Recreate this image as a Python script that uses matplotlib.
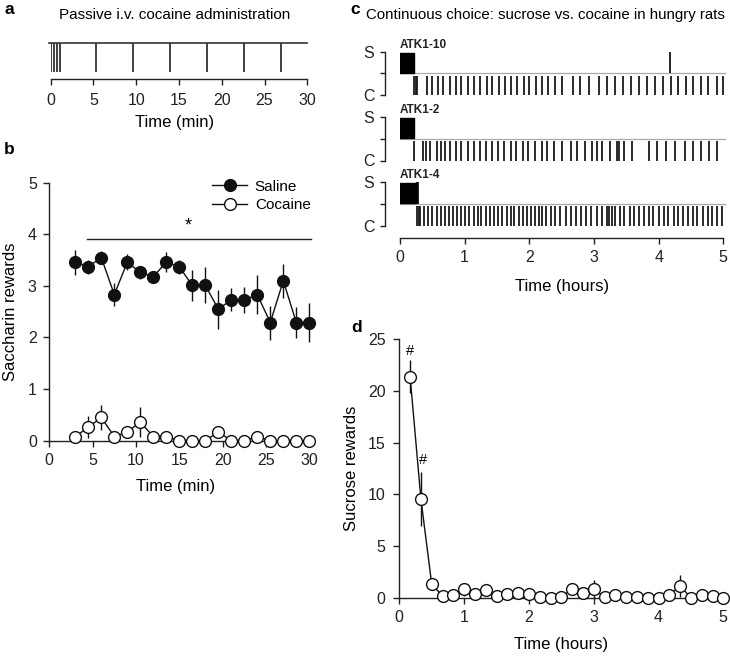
import matplotlib
matplotlib.use("Agg")
import matplotlib.pyplot as plt
from matplotlib.lines import Line2D

W, H = 730, 656
plt.rcParams['font.family'] = ['Liberation Sans', 'DejaVu Sans']
plt.rcParams['font.size'] = 11

# ---------------------------------------------------------------------------
# data
# ---------------------------------------------------------------------------
# a: passive infusion times (min)
infusion_min = [0.0, 0.35, 0.7, 1.05, 5.3, 9.6, 14.0, 18.3, 22.6, 26.9]

# b: saccharin rewards per 1.5-min bin
b_time = [3, 4.5, 6, 7.5, 9, 10.5, 12, 13.5, 15, 16.5, 18, 19.5, 21, 22.5,
          24, 25.5, 27, 28.5, 30]
saline = [3.46, 3.37, 3.55, 2.83, 3.46, 3.26, 3.18, 3.46, 3.37, 3.01, 3.01,
          2.55, 2.73, 2.73, 2.83, 2.29, 3.10, 2.29, 2.29]
saline_err = [0.24, 0.14, 0.13, 0.22, 0.15, 0.13, 0.10, 0.20, 0.14, 0.30,
              0.35, 0.38, 0.22, 0.25, 0.38, 0.33, 0.33, 0.30, 0.38]
cocaine = [0.08, 0.26, 0.45, 0.08, 0.17, 0.36, 0.08, 0.08, 0.0, 0.0, 0.0,
           0.17, 0.0, 0.0, 0.08, 0.0, 0.0, 0.0, 0.0]
cocaine_err = [0.0, 0.21, 0.25, 0.0, 0.0, 0.29, 0.0, 0.0, 0.0, 0.0, 0.0,
               0.05, 0.0, 0.0, 0.0, 0.0, 0.0, 0.0, 0.0]

# c: choice rasters (hours)
rat_names = ["ATK1-10", "ATK1-2", "ATK1-4"]
sucrose_bouts = [(0.0, 0.22), (0.0, 0.22), (0.0, 0.245)]
sucrose_single = [[4.18], [], [0.265, 0.285]]
cocaine_events = [
    [0.21, 0.24, 0.27, 0.41, 0.49, 0.58, 0.67, 0.77, 0.86, 0.95, 1.05, 1.15,
     1.24, 1.34, 1.43, 1.53, 1.62, 1.72, 1.81, 1.91, 2.00, 2.10, 2.19, 2.29,
     2.40, 2.51, 2.67, 2.79, 2.93, 3.07, 3.20, 3.32, 3.45, 3.57, 3.70, 3.82,
     3.95, 4.06, 4.19, 4.30, 4.42, 4.53, 4.65, 4.77, 4.90, 5.00],
    [0.21, 0.35, 0.40, 0.46, 0.57, 0.63, 0.70, 0.77, 0.87, 0.95, 1.05, 1.14,
     1.24, 1.33, 1.42, 1.52, 1.61, 1.71, 1.80, 1.90, 1.98, 2.09, 2.19, 2.28,
     2.38, 2.50, 2.64, 2.74, 2.86, 2.97, 3.04, 3.12, 3.25, 3.36, 3.39, 3.46,
     3.59, 3.85, 3.98, 4.12, 4.26, 4.40, 4.53, 4.66, 4.78, 4.90],
    [0.27, 0.29, 0.31, 0.37, 0.44, 0.50, 0.57, 0.63, 0.70, 0.76, 0.82, 0.88,
     0.95, 1.01, 1.07, 1.14, 1.20, 1.26, 1.33, 1.39, 1.45, 1.52, 1.58, 1.65,
     1.71, 1.77, 1.84, 1.90, 1.96, 2.03, 2.09, 2.15, 2.20, 2.26, 2.33, 2.40,
     2.47, 2.56, 2.64, 2.72, 2.80, 2.88, 2.96, 3.04, 3.12, 3.20, 3.24, 3.28,
     3.33, 3.40, 3.47, 3.55, 3.62, 3.70, 3.77, 3.85, 3.92, 4.00, 4.08, 4.15,
     4.23, 4.30, 4.38, 4.45, 4.53, 4.60, 4.68, 4.76, 4.83, 4.91, 4.98],
]

# d: sucrose rewards per 10-min bin
d_time = [1 / 6 * (i + 1) for i in range(30)]
sucrose = [21.4, 9.55, 1.32, 0.16, 0.26, 0.80, 0.32, 0.74, 0.16, 0.32, 0.42,
           0.32, 0.10, 0.0, 0.10, 0.80, 0.42, 0.80, 0.10, 0.26, 0.10, 0.10,
           0.0, 0.0, 0.26, 1.13, 0.0, 0.26, 0.16, 0.0]
sucrose_err = [1.6, 2.6, 0.3, 0.1, 0.1, 0.65, 0.2, 0.58, 0.1, 0.2, 0.2, 0.2,
               0.1, 0.0, 0.1, 0.3, 0.2, 0.9, 0.1, 0.2, 0.1, 0.1, 0.0, 0.0,
               0.2, 1.06, 0.0, 0.2, 0.1, 0.0]

TICK_FS = 11.5
LABEL_FS = 12
TITLE_FS = 11

# ---------------------------------------------------------------------------
fig = plt.figure(figsize=(W / 100, H / 100), dpi=100)


def px_axes(x0, y0, x1, y1):
    # pixel box (top-left origin) -> figure fraction axes
    return fig.add_axes([x0 / W, 1 - y1 / H, (x1 - x0) / W, (y1 - y0) / H])


def ftext(x, y, s, **kw):
    kw.setdefault("ha", "center")
    kw.setdefault("va", "center")
    fig.text(x / W, 1 - y / H, s, **kw)


def clean(ax):
    ax.spines["top"].set_visible(False)
    ax.spines["right"].set_visible(False)
    ax.tick_params(direction="out", length=4, width=1, labelsize=TICK_FS,
                   colors="#222222")
    ax.tick_params(axis="x", pad=5)
    ax.tick_params(axis="y", pad=5)
    for s in ax.spines.values():
        s.set_linewidth(1)
        s.set_color("#222222")
    ax.patch.set_alpha(0)


# ---- a ---------------------------------------------------------------------
ax_a = px_axes(50.7, 42.7, 307.3, 79.3)
clean(ax_a)
ax_a.spines["left"].set_visible(False)
ax_a.set_yticks([])
ax_a.set_xlim(0, 30)
ax_a.set_ylim(0, 1)
ax_a.plot([-0.2, 30], [1, 1], color="#333333", lw=1.2, clip_on=False)
ax_a.vlines(infusion_min, 0.2, 1, color="#333333", lw=1.3)
ax_a.set_xticks(range(0, 31, 5))
ax_a.tick_params(axis="x", pad=6)
ftext(175, 15, "Passive i.v. cocaine administration", fontsize=TITLE_FS)
ftext(175, 122, "Time (min)", fontsize=LABEL_FS)

# ---- b ---------------------------------------------------------------------
ax_b = px_axes(49.3, 182.7, 309.3, 440.7)
clean(ax_b)
ax_b.set_xlim(0, 30)
ax_b.set_ylim(0, 5)
ax_b.set_xticks(range(0, 31, 5))
ax_b.set_yticks(range(0, 6))
ax_b.errorbar(b_time, saline, yerr=saline_err, fmt="o-", color="#111111",
              mfc="#111111", mec="#111111", ms=8.5, lw=1, elinewidth=1,
              capsize=0, clip_on=False, zorder=3)
ax_b.errorbar(b_time, cocaine, yerr=cocaine_err, fmt="o-", color="#111111",
              mfc="white", mec="#111111", ms=8.5, lw=1, elinewidth=1,
              capsize=0, clip_on=False, zorder=3)
ax_b.plot([4.4, 30.2], [3.9, 3.9], color="#222222", lw=1, clip_on=False)
ax_b.text(16, 4.17, "*", ha="center", va="center", fontsize=13)
handles = [Line2D([], [], color="#111111", marker="o", ms=8.5, lw=1,
                  mfc="#111111"),
           Line2D([], [], color="#111111", marker="o", ms=8.5, lw=1,
                  mfc="white")]
ax_b.legend(handles, ["Saline", "Cocaine"], loc="upper left",
            bbox_to_anchor=(0.626, 1.012), frameon=False, fontsize=11,
            handlelength=2.3, handletextpad=0.5, labelspacing=0.28,
            borderpad=0, borderaxespad=0)
ftext(11, 311.7, "Saccharin rewards", rotation=90, fontsize=LABEL_FS)
ftext(176, 486, "Time (min)", fontsize=LABEL_FS)

# ---- c ---------------------------------------------------------------------
row_tops = [51.7, 117.0, 182.0]
row_h = 43.5
for k, name in enumerate(rat_names):
    ax = px_axes(400, row_tops[k], 723.3, row_tops[k] + row_h)
    clean(ax)
    ax.set_xlim(0, 5)
    ax.set_ylim(-1, 1)
    ax.spines["left"].set_position(("outward", 10.8))
    ax.set_yticks([-1, 0, 1])
    ax.set_yticklabels(["C", "", "S"])
    ax.tick_params(axis="y", length=3.6, pad=4)
    ax.plot([0, 5.02], [0, 0], color="#aaaaaa", lw=0.9, clip_on=False,
            zorder=1)
    ax.broken_barh([sucrose_bouts[k]], (0.03, 0.92), color="black",
                   zorder=3)
    if sucrose_single[k]:
        ax.vlines(sucrose_single[k], 0.0, 1.0, color="black", lw=1.2,
                  zorder=3)
    ax.vlines(cocaine_events[k], -0.12, -1.0, color="#1a1a1a", lw=1.3,
              clip_on=False, zorder=2)
    ax.text(0.0, 1.03, name, transform=ax.get_yaxis_transform(),
            ha="left", va="bottom", fontsize=8.5, fontweight="bold",
            color="#222222")
    if k < 2:
        ax.spines["bottom"].set_visible(False)
        ax.set_xticks([])
    else:
        ax.spines["bottom"].set_position(("outward", 8.8))
        ax.set_xticks(range(0, 6))
ftext(545, 15, "Continuous choice: sucrose vs. cocaine in hungry rats",
      fontsize=10.8)
ftext(561.6, 287, "Time (hours)", fontsize=LABEL_FS)

# ---- d ---------------------------------------------------------------------
ax_d = px_axes(399.3, 339.3, 723.3, 597.7)
clean(ax_d)
ax_d.set_xlim(0, 5)
ax_d.set_ylim(0, 25)
ax_d.set_xticks(range(0, 6))
ax_d.set_yticks(range(0, 26, 5))
ax_d.tick_params(axis="y", pad=6)
ax_d.errorbar(d_time, sucrose, yerr=sucrose_err, fmt="o-", color="#111111",
              mfc="white", mec="#111111", ms=8.5, lw=1, elinewidth=1,
              capsize=0, clip_on=False, zorder=3)
ax_d.text(d_time[0], 23.9, "#", ha="center", va="center", fontsize=10.5)
ax_d.text(d_time[1] + 0.03, 13.3, "#", ha="center", va="center",
          fontsize=10.5)
ftext(352, 468.5, "Sucrose rewards", rotation=90, fontsize=LABEL_FS)
ftext(561.3, 645, "Time (hours)", fontsize=LABEL_FS)

# panel letters
for lab, x, y in [("a", 9, 10), ("b", 9, 150), ("c", 355, 10),
                  ("d", 357, 328)]:
    ftext(x, y, lab, fontsize=12.5, fontweight="bold")

fig.savefig("out.png", dpi=100)
